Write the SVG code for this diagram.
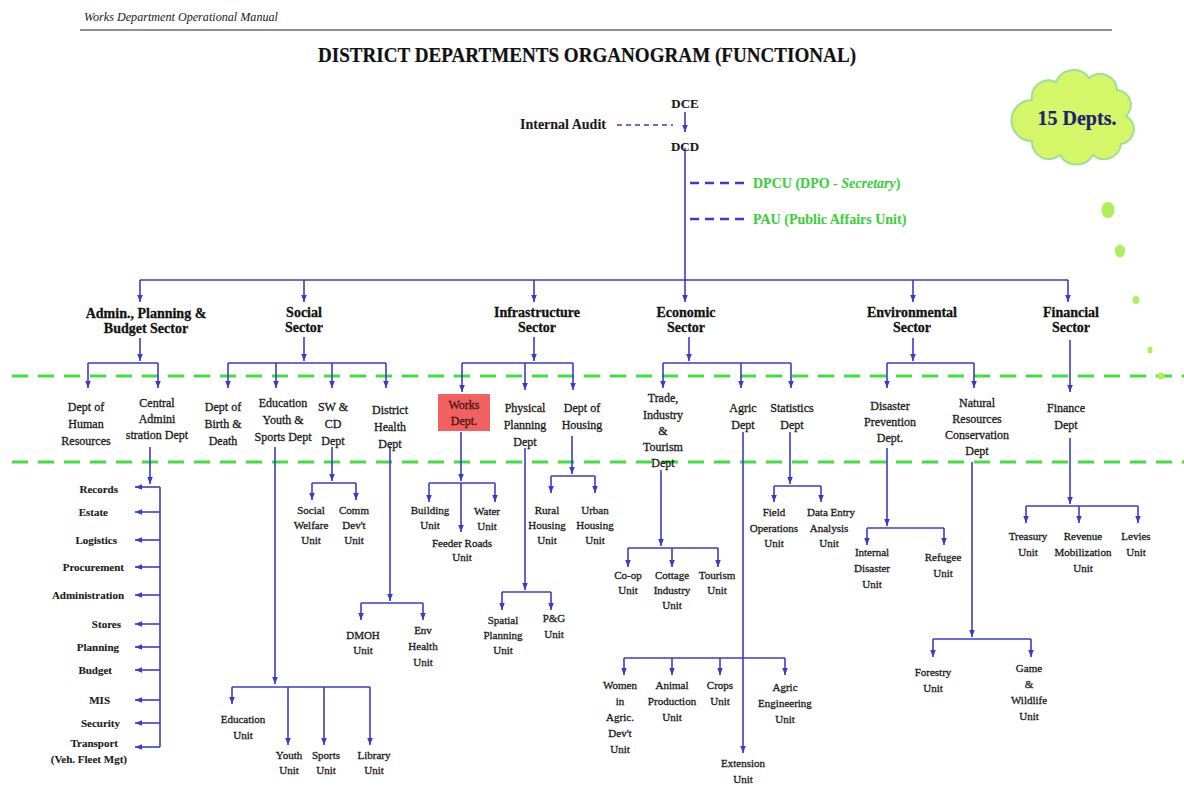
<svg xmlns="http://www.w3.org/2000/svg" width="1184" height="787" viewBox="0 0 1184 787">
<style>
.t{font-family:"Liberation Serif",serif;font-size:12px;fill:#1a1a1a;stroke:#1a1a1a;stroke-width:0.3;text-anchor:middle}
.u{font-size:11px}
.s{font-size:14px;font-weight:bold;fill:#111}
.a{font-size:11px;font-weight:bold;text-anchor:end;stroke-width:0.1}
.g{fill:#3ccf3c;stroke:#3ccf3c;stroke-width:0.1;font-size:14px;font-weight:bold;text-anchor:start}
.ln{stroke:#3b3bc9;stroke-width:1.6;fill:none}
.ar{marker-end:url(#ah)}
.gd{stroke:#44dd44;stroke-width:3;stroke-dasharray:16 10;fill:none}
.bd{stroke:#3b3bc9;fill:none}
</style>
<defs>
<marker id="ah" viewBox="0 0 10 10" refX="10" refY="5" markerUnits="userSpaceOnUse" markerWidth="7" markerHeight="7" orient="auto">
<path d="M0,1 L10,5 L0,9 z" fill="#3b3bc9"/>
</marker>
</defs>
<rect width="1184" height="787" fill="#ffffff"/>

<g id="header">
<text class="t" x="84" y="21" style="text-anchor:start;font-style:italic;font-size:12px;stroke-width:0" textLength="194" lengthAdjust="spacingAndGlyphs">Works Department Operational Manual</text>
<line x1="80" y1="30" x2="1112" y2="30" stroke="#222" stroke-width="1.2"/>
<text class="t" x="587" y="62" style="font-size:20px;font-weight:bold;fill:#111;stroke-width:0.2" textLength="538" lengthAdjust="spacingAndGlyphs">DISTRICT DEPARTMENTS ORGANOGRAM (FUNCTIONAL)</text>
</g>

<g id="guides">
<line class="gd" x1="12" y1="376" x2="1184" y2="376"/>
<line class="gd" x1="12" y1="462" x2="1184" y2="462"/>
</g>

<g id="cloud">
<path d="M1032,100 a17,17 0 0 1 24,-18 a19,19 0 0 1 33,-4 a17,17 0 0 1 28,12 a15,15 0 0 1 9,26 a15,15 0 0 1 -5,28 a17,17 0 0 1 -28,11 a19,19 0 0 1 -33,0 a17,17 0 0 1 -28,-14 a20,20 0 0 1 0,-41 z" fill="#d6f66a" stroke="#9ddf94" stroke-width="2"/>
<text class="t" x="1077" y="125" style="font-size:20px;font-weight:bold;fill:#1c2470;stroke:#1c2470;stroke-width:0.2">15 Depts.</text>
<ellipse cx="1108" cy="210" rx="6.5" ry="8" fill="#aef05a"/>
<ellipse cx="1120" cy="251" rx="5" ry="6.5" fill="#aef05a"/>
<ellipse cx="1136" cy="300" rx="3.5" ry="4" fill="#aef05a"/>
<ellipse cx="1150" cy="350" rx="2.5" ry="3.5" fill="#aef05a"/>
<circle cx="1161" cy="376" r="3.5" fill="#aef05a"/>
</g>

<g id="connectors">
<path class="ln ar" d="M685,112 V132"/>
<path class="bd" d="M617,125 H673" stroke-width="1.5" stroke-dasharray="5 4"/>
<path class="ln ar" d="M685,148 V302"/>
<path class="bd" d="M690,183 H746" stroke-width="2.5" stroke-dasharray="9 6"/>
<path class="bd" d="M690,219 H746" stroke-width="2.5" stroke-dasharray="9 6"/>
<path class="ln" d="M140,280 H1068"/>
<path class="ln ar" d="M140,280 V302"/>
<path class="ln ar" d="M304,280 V302"/>
<path class="ln ar" d="M534,280 V302"/>
<path class="ln ar" d="M913,280 V302"/>
<path class="ln ar" d="M1068,280 V302"/>

<path class="ln ar" d="M140,338 V361"/>
<path class="ln" d="M88,363 H158"/>
<path class="ln ar" d="M88,363 V388"/>
<path class="ln ar" d="M158,363 V388"/>

<path class="ln ar" d="M304,337 V361"/>
<path class="ln" d="M228,363 H386"/>
<path class="ln ar" d="M228,363 V388"/>
<path class="ln ar" d="M276,363 V388"/>
<path class="ln ar" d="M332,363 V388"/>
<path class="ln ar" d="M386,363 V388"/>

<path class="ln ar" d="M534,337 V361"/>
<path class="ln" d="M462,363 H573"/>
<path class="ln ar" d="M462,363 V392"/>
<path class="ln ar" d="M525,363 V390"/>
<path class="ln ar" d="M573,363 V390"/>

<path class="ln ar" d="M689,337 V361"/>
<path class="ln" d="M663,363 H791"/>
<path class="ln ar" d="M663,363 V388"/>
<path class="ln ar" d="M741,363 V388"/>
<path class="ln ar" d="M791,363 V388"/>

<path class="ln ar" d="M913,338 V361"/>
<path class="ln" d="M887,363 H974"/>
<path class="ln ar" d="M887,363 V388"/>
<path class="ln ar" d="M974,363 V388"/>

<path class="ln ar" d="M1070,340 V392"/>

<path class="ln ar" d="M150,447 V484"/>
<path class="ln" d="M160,487 V747"/>
<path class="ln ar" d="M160,487 H135" stroke-width="1"/>
<path class="ln ar" d="M160,512 H135" stroke-width="2"/>
<path class="ln ar" d="M160,540 H135" stroke-width="2"/>
<path class="ln ar" d="M160,567 H135" stroke-width="1"/>
<path class="ln ar" d="M160,595 H135" stroke-width="2"/>
<path class="ln ar" d="M160,624 H135" stroke-width="2"/>
<path class="ln ar" d="M160,647 H135" stroke-width="2"/>
<path class="ln ar" d="M160,670 H135" stroke-width="2"/>
<path class="ln ar" d="M160,700 H135" stroke-width="1"/>
<path class="ln ar" d="M160,723 H135" stroke-width="2"/>
<path class="ln ar" d="M160,747 H135" stroke-width="2"/>

<path class="ln ar" d="M275,447 V684"/>
<path class="ln" d="M232,687 H370"/>
<path class="ln ar" d="M232,687 V704"/>
<path class="ln ar" d="M288,687 V745"/>
<path class="ln ar" d="M324,687 V745"/>
<path class="ln ar" d="M370,687 V745"/>

<path class="ln ar" d="M332,447 V481"/>
<path class="ln" d="M312,483 H356"/>
<path class="ln ar" d="M312,483 V500"/>
<path class="ln ar" d="M356,483 V500"/>

<path class="ln ar" d="M390,446 V601"/>
<path class="ln" d="M361,603 H423"/>
<path class="ln ar" d="M361,603 V620"/>
<path class="ln ar" d="M423,603 V620"/>

<path class="ln ar" d="M461,432 V481"/>
<path class="ln ar" d="M461,483 V532"/>
<path class="ln" d="M429,483 H495"/>
<path class="ln ar" d="M429,483 V502"/>
<path class="ln ar" d="M495,483 V502"/>

<path class="ln ar" d="M525,448 V590"/>
<path class="ln" d="M502,592 H551"/>
<path class="ln ar" d="M502,592 V610"/>
<path class="ln ar" d="M551,592 V610"/>

<path class="ln ar" d="M572,436 V474"/>
<path class="ln" d="M551,476 H595"/>
<path class="ln ar" d="M551,476 V493"/>
<path class="ln ar" d="M595,476 V493"/>

<path class="ln ar" d="M661,470 V546"/>
<path class="ln" d="M628,548 H718"/>
<path class="ln ar" d="M628,548 V567"/>
<path class="ln ar" d="M672,548 V567"/>
<path class="ln ar" d="M718,548 V567"/>

<path class="ln ar" d="M743,432 V753"/>
<path class="ln" d="M624,658 H785"/>
<path class="ln ar" d="M624,658 V675"/>
<path class="ln ar" d="M672,658 V675"/>
<path class="ln ar" d="M720,658 V675"/>
<path class="ln ar" d="M785,658 V675"/>

<path class="ln ar" d="M790,432 V484"/>
<path class="ln" d="M774,486 H821"/>
<path class="ln ar" d="M774,486 V502"/>
<path class="ln ar" d="M821,486 V502"/>

<path class="ln ar" d="M887,448 V526"/>
<path class="ln" d="M867,528 H944"/>
<path class="ln ar" d="M867,528 V545"/>
<path class="ln ar" d="M944,528 V545"/>

<path class="ln ar" d="M972,462 V637"/>
<path class="ln" d="M933,639 H1031"/>
<path class="ln ar" d="M933,639 V657"/>
<path class="ln ar" d="M1031,639 V657"/>

<path class="ln ar" d="M1070,438 V504"/>
<path class="ln" d="M1026,506 H1138"/>
<path class="ln ar" d="M1026,506 V523"/>
<path class="ln ar" d="M1079,506 V523"/>
<path class="ln ar" d="M1138,506 V523"/>
</g>

<g id="top">
<g id="dce"><text class="t" x="685" y="108" style="font-size:13px;font-weight:bold;stroke-width:0.1">DCE</text></g>
<g id="dcd"><text class="t" x="685" y="151" style="font-size:13px;font-weight:bold;stroke-width:0.1">DCD</text></g>
<g id="audit"><text class="t" x="520" y="129" style="font-size:14px;font-weight:bold;text-anchor:start;stroke-width:0.1">Internal Audit</text></g>
<g id="dpcu"><text class="t g" x="753" y="188">DPCU (DPO - <tspan font-style="italic">Secretary</tspan>)</text></g>
<g id="pau"><text class="t g" x="753" y="224">PAU (Public Affairs Unit)</text></g>
</g>

<g id="sectors">
<g id="sec-admin"><text class="t s" x="146" y="318"><tspan x="146">Admin.,  Planning &amp;</tspan><tspan x="146" dy="15">Budget Sector</tspan></text></g>
<g id="sec-social"><text class="t s" x="304" y="317"><tspan x="304">Social</tspan><tspan x="304" dy="15">Sector</tspan></text></g>
<g id="sec-infra"><text class="t s" x="537" y="317"><tspan x="537">Infrastructure</tspan><tspan x="537" dy="15">Sector</tspan></text></g>
<g id="sec-econ"><text class="t s" x="686" y="317"><tspan x="686">Economic</tspan><tspan x="686" dy="15">Sector</tspan></text></g>
<g id="sec-env"><text class="t s" x="912" y="317"><tspan x="912">Environmental</tspan><tspan x="912" dy="15">Sector</tspan></text></g>
<g id="sec-fin"><text class="t s" x="1071" y="317"><tspan x="1071">Financial</tspan><tspan x="1071" dy="15">Sector</tspan></text></g>
</g>

<g id="depts">
<g id="d-hr"><text class="t" x="86" y="411"><tspan x="86">Dept of</tspan><tspan x="86" dy="17">Human</tspan><tspan x="86" dy="17">Resources</tspan></text></g>
<g id="d-central"><text class="t" x="157" y="407"><tspan x="157">Central</tspan><tspan x="157" dy="16">Admini</tspan><tspan x="157" dy="16">stration Dept</tspan></text></g>
<g id="d-birth"><text class="t" x="223" y="411"><tspan x="223">Dept of</tspan><tspan x="223" dy="17">Birth &amp;</tspan><tspan x="223" dy="17">Death</tspan></text></g>
<g id="d-edu"><text class="t" x="283" y="407"><tspan x="283">Education</tspan><tspan x="283" dy="17">Youth &amp;</tspan><tspan x="283" dy="17">Sports Dept</tspan></text></g>
<g id="d-sw"><text class="t" x="333" y="411"><tspan x="333">SW &amp;</tspan><tspan x="333" dy="17">CD</tspan><tspan x="333" dy="17">Dept</tspan></text></g>
<g id="d-health"><text class="t" x="390" y="414"><tspan x="390">District</tspan><tspan x="390" dy="17">Health</tspan><tspan x="390" dy="17">Dept</tspan></text></g>
<g id="d-works"><rect x="438" y="394" width="52" height="37" fill="#f26161"/><text class="t" x="464" y="409" style="fill:#4a1414;stroke:#4a1414"><tspan x="464">Works</tspan><tspan x="464" dy="16">Dept.</tspan></text></g>
<g id="d-physical"><text class="t" x="525" y="412"><tspan x="525">Physical</tspan><tspan x="525" dy="17">Planning</tspan><tspan x="525" dy="17">Dept</tspan></text></g>
<g id="d-housing"><text class="t" x="582" y="412"><tspan x="582">Dept of</tspan><tspan x="582" dy="17">Housing</tspan></text></g>
<g id="d-trade"><text class="t" x="663" y="402"><tspan x="663">Trade,</tspan><tspan x="663" dy="17">Industry</tspan><tspan x="663" dy="16">&amp;</tspan><tspan x="663" dy="16">Tourism</tspan><tspan x="663" dy="16">Dept</tspan></text></g>
<g id="d-agric"><text class="t" x="743" y="412"><tspan x="743">Agric</tspan><tspan x="743" dy="17">Dept</tspan></text></g>
<g id="d-stats"><text class="t" x="792" y="412"><tspan x="792">Statistics</tspan><tspan x="792" dy="17">Dept</tspan></text></g>
<g id="d-disaster"><text class="t" x="890" y="410"><tspan x="890">Disaster</tspan><tspan x="890" dy="16">Prevention</tspan><tspan x="890" dy="16">Dept.</tspan></text></g>
<g id="d-natural"><text class="t" x="977" y="407"><tspan x="977">Natural</tspan><tspan x="977" dy="16">Resources</tspan><tspan x="977" dy="16">Conservation</tspan><tspan x="977" dy="16">Dept</tspan></text></g>
<g id="d-finance"><text class="t" x="1066" y="412"><tspan x="1066">Finance</tspan><tspan x="1066" dy="17">Dept</tspan></text></g>
</g>

<g id="admin-units">
<text class="t a" x="118" y="493">Records</text>
<text class="t a" x="108" y="516">Estate</text>
<text class="t a" x="117" y="544">Logistics</text>
<text class="t a" x="124" y="571">Procurement</text>
<text class="t a" x="124" y="599">Administration</text>
<text class="t a" x="121" y="628">Stores</text>
<text class="t a" x="119" y="651">Planning</text>
<text class="t a" x="112" y="674">Budget</text>
<text class="t a" x="110" y="704">MIS</text>
<text class="t a" x="120" y="727">Security</text>
<text class="t a" x="118" y="747">Transport</text>
<text class="t a" x="127" y="763">(Veh. Fleet Mgt)</text>
</g>

<g id="units">
<g id="u-edu"><text class="t u" x="243" y="723"><tspan x="243">Education</tspan><tspan x="243" dy="16">Unit</tspan></text></g>
<g id="u-youth"><text class="t u" x="289" y="759"><tspan x="289">Youth</tspan><tspan x="289" dy="15">Unit</tspan></text></g>
<g id="u-sports"><text class="t u" x="326" y="759"><tspan x="326">Sports</tspan><tspan x="326" dy="15">Unit</tspan></text></g>
<g id="u-library"><text class="t u" x="374" y="759"><tspan x="374">Library</tspan><tspan x="374" dy="15">Unit</tspan></text></g>
<g id="u-sw"><text class="t u" x="311" y="514"><tspan x="311">Social</tspan><tspan x="311" dy="15">Welfare</tspan><tspan x="311" dy="15">Unit</tspan></text></g>
<g id="u-comm"><text class="t u" x="354" y="514"><tspan x="354">Comm</tspan><tspan x="354" dy="15">Dev't</tspan><tspan x="354" dy="15">Unit</tspan></text></g>
<g id="u-dmoh"><text class="t u" x="363" y="639"><tspan x="363">DMOH</tspan><tspan x="363" dy="15">Unit</tspan></text></g>
<g id="u-env"><text class="t u" x="423" y="634"><tspan x="423">Env</tspan><tspan x="423" dy="16">Health</tspan><tspan x="423" dy="16">Unit</tspan></text></g>
<g id="u-building"><text class="t u" x="430" y="514"><tspan x="430">Building</tspan><tspan x="430" dy="15">Unit</tspan></text></g>
<g id="u-water"><text class="t u" x="487" y="515"><tspan x="487">Water</tspan><tspan x="487" dy="15">Unit</tspan></text></g>
<g id="u-feeder"><text class="t u" x="462" y="547"><tspan x="462">Feeder Roads</tspan><tspan x="462" dy="14">Unit</tspan></text></g>
<g id="u-spatial"><text class="t u" x="503" y="624"><tspan x="503">Spatial</tspan><tspan x="503" dy="15">Planning</tspan><tspan x="503" dy="15">Unit</tspan></text></g>
<g id="u-pg"><text class="t u" x="554" y="622"><tspan x="554">P&amp;G</tspan><tspan x="554" dy="16">Unit</tspan></text></g>
<g id="u-rural"><text class="t u" x="547" y="514"><tspan x="547">Rural</tspan><tspan x="547" dy="15">Housing</tspan><tspan x="547" dy="15">Unit</tspan></text></g>
<g id="u-urban"><text class="t u" x="595" y="514"><tspan x="595">Urban</tspan><tspan x="595" dy="15">Housing</tspan><tspan x="595" dy="15">Unit</tspan></text></g>
<g id="u-coop"><text class="t u" x="628" y="579"><tspan x="628">Co-op</tspan><tspan x="628" dy="15">Unit</tspan></text></g>
<g id="u-cottage"><text class="t u" x="672" y="579"><tspan x="672">Cottage</tspan><tspan x="672" dy="15">Industry</tspan><tspan x="672" dy="15">Unit</tspan></text></g>
<g id="u-tourism"><text class="t u" x="717" y="579"><tspan x="717">Tourism</tspan><tspan x="717" dy="15">Unit</tspan></text></g>
<g id="u-women"><text class="t u" x="620" y="689"><tspan x="620">Women</tspan><tspan x="620" dy="16">in</tspan><tspan x="620" dy="16">Agric.</tspan><tspan x="620" dy="16">Dev't</tspan><tspan x="620" dy="16">Unit</tspan></text></g>
<g id="u-animal"><text class="t u" x="672" y="689"><tspan x="672">Animal</tspan><tspan x="672" dy="16">Production</tspan><tspan x="672" dy="16">Unit</tspan></text></g>
<g id="u-crops"><text class="t u" x="720" y="689"><tspan x="720">Crops</tspan><tspan x="720" dy="16">Unit</tspan></text></g>
<g id="u-agreng"><text class="t u" x="785" y="691"><tspan x="785">Agric</tspan><tspan x="785" dy="16">Engineering</tspan><tspan x="785" dy="16">Unit</tspan></text></g>
<g id="u-extension"><text class="t u" x="743" y="767"><tspan x="743">Extension</tspan><tspan x="743" dy="16">Unit</tspan></text></g>
<g id="u-field"><text class="t u" x="774" y="516"><tspan x="774">Field</tspan><tspan x="774" dy="16">Operations</tspan><tspan x="774" dy="15">Unit</tspan></text></g>
<g id="u-data"><text class="t u" x="829" y="516"><tspan x="831">Data Entry</tspan><tspan x="829" dy="16">Analysis</tspan><tspan x="829" dy="15">Unit</tspan></text></g>
<g id="u-internal"><text class="t u" x="872" y="556"><tspan x="872">Internal</tspan><tspan x="872" dy="16">Disaster</tspan><tspan x="872" dy="16">Unit</tspan></text></g>
<g id="u-refugee"><text class="t u" x="943" y="561"><tspan x="943">Refugee</tspan><tspan x="943" dy="16">Unit</tspan></text></g>
<g id="u-forestry"><text class="t u" x="933" y="676"><tspan x="933">Forestry</tspan><tspan x="933" dy="16">Unit</tspan></text></g>
<g id="u-game"><text class="t u" x="1029" y="672"><tspan x="1029">Game</tspan><tspan x="1029" dy="16">&amp;</tspan><tspan x="1029" dy="16">Wildlife</tspan><tspan x="1029" dy="16">Unit</tspan></text></g>
<g id="u-treasury"><text class="t u" x="1028" y="540"><tspan x="1028">Treasury</tspan><tspan x="1028" dy="16">Unit</tspan></text></g>
<g id="u-revenue"><text class="t u" x="1083" y="540"><tspan x="1083">Revenue</tspan><tspan x="1083" dy="16">Mobilization</tspan><tspan x="1083" dy="16">Unit</tspan></text></g>
<g id="u-levies"><text class="t u" x="1136" y="540"><tspan x="1136">Levies</tspan><tspan x="1136" dy="16">Unit</tspan></text></g>
</g>
</svg>
